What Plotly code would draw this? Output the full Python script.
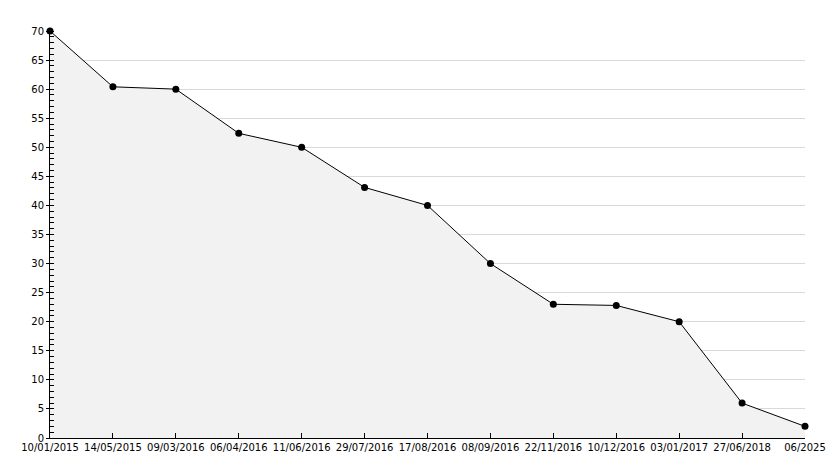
import plotly.graph_objects as go

dates = ["10/01/2015", "14/05/2015", "09/03/2016", "06/04/2016", "11/06/2016",
         "29/07/2016", "17/08/2016", "08/09/2016", "22/11/2016", "10/12/2016",
         "03/01/2017", "27/06/2018", "06/2025"]
values = [70, 60.4, 60, 52.4, 50, 43.1, 40, 30, 23.0, 22.8, 20, 6, 2]

fig = go.Figure()
fig.add_trace(go.Scatter(
    x=dates, y=values, mode="lines+markers",
    fill="tozeroy", fillcolor="#f2f2f2",
    line=dict(color="black", width=1),
    marker=dict(color="black", size=7, symbol="circle"),
    cliponaxis=False, hoverinfo="x+y",
))

# page body has an 8px margin, so the figure is sized/offset to compensate
fig.update_layout(
    width=826, height=460,
    margin=dict(l=42, r=29, t=23, b=30, autoexpand=False),
    paper_bgcolor="white", plot_bgcolor="white",
    showlegend=False,
    font=dict(family="DejaVu Sans", size=10, color="black"),
    xaxis=dict(
        type="category", range=[0, len(dates) - 1],
        automargin=False, tickangle=0,
        showgrid=False, zeroline=False,
        showline=True, linecolor="black", linewidth=1,
        ticks="inside", ticklen=5, tickcolor="black",
        tickfont=dict(family="DejaVu Sans", size=10, color="black"),
    ),
    yaxis=dict(
        range=[0, 70], dtick=5, tick0=0,
        automargin=False,
        showgrid=True, gridcolor="#d9d9d9", gridwidth=1,
        zeroline=False,
        showline=True, linecolor="black", linewidth=1,
        ticks="outside", ticklen=3, tickcolor="black",
        tickfont=dict(family="DejaVu Sans", size=10, color="black"),
        minor=dict(dtick=1, ticks="inside", ticklen=4, tickcolor="black", showgrid=False),
    ),
)

fig.write_html("out.html")
